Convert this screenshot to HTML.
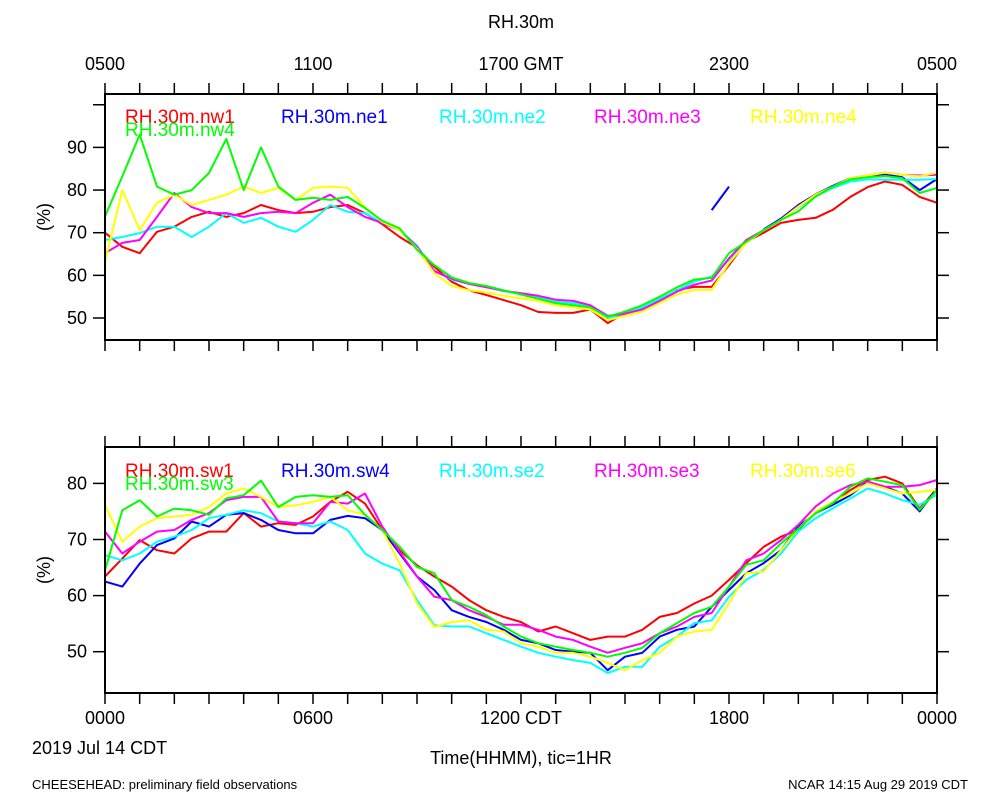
<!DOCTYPE html>
<html><head><meta charset="utf-8"><style>
html,body{margin:0;padding:0;background:#fff;}
svg{display:block;font-family:"Liberation Sans",sans-serif;}
</style></head><body>
<svg id="chart" width="1000" height="800" viewBox="0 0 1000 800" xmlns="http://www.w3.org/2000/svg">
<text x="521" y="28" font-size="18" text-anchor="middle">RH.30m</text>
<g font-size="18" text-anchor="middle">
<text x="105" y="70">0500</text>
<text x="313" y="70">1100</text>
<text x="521" y="70">1700 GMT</text>
<text x="729" y="70">2300</text>
<text x="937" y="70">0500</text>
</g>
<g font-size="18" text-anchor="middle">
<text x="105" y="724">0000</text>
<text x="313" y="724">0600</text>
<text x="521" y="724">1200 CDT</text>
<text x="729" y="724">1800</text>
<text x="937" y="724">0000</text>
</g>
<text x="32" y="754" font-size="18">2019 Jul 14 CDT</text>
<text x="521" y="764" font-size="18" text-anchor="middle">Time(HHMM), tic=1HR</text>
<text x="32" y="789" font-size="13">CHEESEHEAD: preliminary field observations</text>
<text x="968" y="789" font-size="13" text-anchor="end">NCAR 14:15 Aug 29 2019 CDT</text>
</svg>
<script>
const hours = [];
for (let i = 0; i <= 48; i++) hours.push(i * 0.5);

const topYTicks = [50, 60, 70, 80, 90, 100];
const topYLabels = ["50", "60", "70", "80", "90", ""];
const botYTicks = [50, 60, 70, 80];
const botYLabels = ["50", "60", "70", "80"];

const topNames = ["RH.30m.nw1","RH.30m.ne1","RH.30m.ne2","RH.30m.ne3","RH.30m.ne4","RH.30m.nw4"];
const botNames = ["RH.30m.sw1","RH.30m.sw4","RH.30m.se2","RH.30m.se3","RH.30m.se6","RH.30m.sw3"];

const nw1 = [70,66.7,65.2,70.2,71.4,73.7,74.9,73.7,74.6,76.5,75.3,74.6,74.9,76,76.5,74.6,72,69,66.5,62,58.5,56.5,55.4,54.2,53,51.4,51.2,51.2,52,48.8,51.2,52.3,54.2,56.6,57.3,57.3,62.4,67.9,70,72.3,73,73.5,75.4,78.4,80.7,82,81.2,78.4,77];
const ne1 = [null,null,null,null,null,null,null,null,null,null,null,null,null,null,null,null,null,null,null,null,null,null,null,null,null,null,null,null,null,null,null,null,null,null,null,75.3,80.8,null,70.8,73.3,76.5,79,81,82.8,83.3,83.6,83,80,82.6];
const ne2 = [68.3,69,69.9,71.4,71.4,69,71.4,74.6,72.3,73.5,71.4,70.2,73,76.5,74.9,74.6,72.3,70.6,67,61,59,58,57.3,56.3,55.6,54.9,53.8,53.5,52.8,50,51,52.5,54.5,56.5,58.5,59.7,63.6,68,70.6,73,76,78.5,80.5,82,82.5,82.4,82.4,82.4,82.6];
const ne3 = [65.2,67.6,68.3,73.7,79.3,76,74.6,74.6,73.7,74.6,74.9,74.6,77,78.9,76,73.7,72.3,70.6,66.7,61,59.2,58,57.2,56.4,55.8,55.2,54.3,54,53,50.5,51,52,54,56.2,57.8,58.8,64,68.3,70.6,73,76.2,78.9,80.8,82.8,83.4,84.1,83.6,83.4,83.6];
const ne4 = [63.2,80,70.6,77,78.9,76.5,77.7,78.9,80.8,79.3,80.5,77.7,80.5,80.8,80.5,76,72.5,70.6,66.3,60.5,57.5,56.5,56,55.2,54.6,54,53,52.5,52,49.5,50.5,51.5,53.5,55.5,56.6,56.6,62.9,67.6,70.6,73,76.1,78.9,80.8,82.8,83.4,84.1,83.6,83.2,84.1];
const nw4 = [73.8,83.2,93,80.8,78.9,80,84,92,80,90,80.8,77.7,78.2,77.7,78.4,75.8,72.8,71,66,62.4,59.5,58.2,57.5,56.5,55.5,54.5,53.5,53,52.5,50.3,51.5,53,55,57.2,59,59.4,65.2,67.9,70.6,73,75,78.5,80.8,82.5,83,83.3,82.8,79.3,80.5];

const sw1 = [63.4,66.6,69.9,68.1,67.5,70.2,71.4,71.4,74.7,72.3,72.9,72.6,74.1,76.7,78.5,76.4,71.7,68.1,65.4,63.4,61.6,59.2,57.4,56.2,55.3,53.6,54.5,53.3,52.1,52.7,52.7,53.9,56.2,56.9,58.6,60,62.8,65.8,68.7,70.5,71.7,75,76.5,78.8,80.6,81.2,80,75.5,79.1];
const sw4 = [62.5,61.6,65.7,69,70.2,73.2,72.3,74.4,74.7,73.5,71.7,71.1,71.1,73.5,74.2,73.8,71.7,67.5,63.4,61,57.4,56.2,55.3,53.9,52.1,51.5,50.3,50,49.8,46.7,49.1,49.8,52.7,53.9,54.5,58,61,64,65.8,68.1,72.3,74.7,76.2,77.9,80.3,79.4,78.2,75,79.1];
const se2 = [67.2,66.3,67.5,69.6,70.5,71.7,73.8,74.4,75.2,74.7,73.2,72.9,72.3,73.2,71.7,67.5,65.7,64.5,59.2,54.7,54.5,54.5,53.3,52.1,50.9,49.8,49.1,48.5,48,46.2,47.3,47.3,50.9,52.7,55.1,55.6,59.8,62.8,64.6,67.5,71.4,73.8,75.6,77.3,79.1,78.2,77,76.2,78];
const se3 = [71.4,67.5,69.6,71.4,71.7,73.5,74.7,77,77.6,77.6,73.2,72.9,72.9,76.7,76.4,78.2,72.3,67.8,63.4,59.8,59.2,57.4,56.2,54.8,54.8,53.9,52.7,52.1,50.9,49.8,50.7,51.5,53.3,54.5,56.2,56.9,61.6,66.3,67.5,69.9,72.6,75.9,78.2,79.7,80.3,79.4,79.4,79.7,80.6];
const se6 = [76.1,69.6,72.3,73.8,74.1,74.4,75.8,78.2,79.1,77.6,75.8,76.1,76.7,77.6,75.2,74.4,71.7,65.7,58.6,54.4,55.3,55.6,53.9,53.6,51.5,50.9,49.8,49.8,49.1,48,46.7,48.5,49.8,52.7,53.6,53.9,58.6,64,64.3,68.1,71.9,75,76.7,78.2,80,79.1,78.2,78.5,78.8];
const sw3 = [64.5,75.2,77,74.1,75.5,75.2,74.4,77.3,77.9,80.5,75.8,77.6,77.9,77.6,77.9,74.4,71.7,68.7,65.1,64,59.2,58,56.5,54.5,52.7,51.5,50.9,50.3,49.8,49.1,49.8,50.7,53.3,55.1,56.9,58,61.6,65.5,66.3,69.3,71.9,74.7,76.5,79.4,80.9,80.3,79.7,75.3,78.8];

const topSeries = [nw1, ne1, ne2, ne3, ne4, nw4];
const botSeries = [sw1, sw4, se2, se3, se6, sw3];
const colors = ["#ff0000","#0000ff","#00ffff","#ff00ff","#ffff00","#00ff00"];

const NS = "http://www.w3.org/2000/svg";
const svg = document.getElementById("chart");
const X0 = 105, X1 = 937;
function xScale(h){ return X0 + (X1 - X0) * h / 24; }
function mk(tag, attrs, parent){
  const e = document.createElementNS(NS, tag);
  for (const k in attrs) e.setAttribute(k, attrs[k]);
  (parent || svg).appendChild(e);
  return e;
}

const legendX = [125, 281, 439, 594, 750];

function drawPanel(key, top, bottom, yA, vA, yB, vB, yTicks, yLabels, series, names, legRow1){
  function yScale(v){ return yA + (v - vA) * (yB - yA) / (vB - vA); }
  const g = mk("g", {});
  
  
  // series
  series.forEach(function(s, si){
    let d = "", pen = false;
    s.forEach(function(v, i){
      if (v === null) { pen = false; return; }
      d += (pen ? "L" : "M") + xScale(hours[i]).toFixed(1) + "," + yScale(v).toFixed(1);
      pen = true;
    });
    const p = mk("path", {d: d, fill: "none", stroke: colors[si], "stroke-width": 2, "stroke-linejoin": "round"}, g);
    
    
  });
  // frame
  const r = mk("rect", {x: X0, y: top, width: X1 - X0, height: bottom - top, fill: "none", stroke: "#000", "stroke-width": 2}, g);
  
  
  // x ticks
  for (let h = 0; h <= 24; h++){
    const x = xScale(h);
    const t1 = mk("line", {x1: x, x2: x, y1: top - 11, y2: top, stroke: "#000", "stroke-width": 1.5}, g);
    
    
    const t2 = mk("line", {x1: x, x2: x, y1: bottom, y2: bottom + 11, stroke: "#000", "stroke-width": 1.5}, g);
    
    
  }
  // y ticks
  yTicks.forEach(function(v, i){
    const y = yScale(v);
    const a = mk("line", {x1: X0 - 12, x2: X0, y1: y, y2: y, stroke: "#000", "stroke-width": 1.5}, g);
    
    
    const b = mk("line", {x1: X1, x2: X1 + 12, y1: y, y2: y, stroke: "#000", "stroke-width": 1.5}, g);
    
    
    if (yLabels[i]){
      const t = mk("text", {x: 87, y: y + 6, "font-size": 18, "text-anchor": "end"}, g);
      t.textContent = yLabels[i];
      
      
    }
  });
  // y title
  const cy = (top + bottom) / 2;
  const yt = mk("text", {x: 50, y: cy, "font-size": 18, "text-anchor": "middle", transform: "rotate(-90 50 " + cy + ")"}, g);
  yt.textContent = "(%)";
  
  
  // legend
  names.forEach(function(n, i){
    const lx = i < 5 ? legendX[i] : legendX[0];
    const ly = i < 5 ? legRow1 : legRow1 + 13;
    const t = mk("text", {x: lx, y: ly, "font-size": 19, fill: colors[i]}, g);
    t.textContent = n;
    
    
  });
}

drawPanel("top", 94, 340, 318, 50, 147.4, 90, topYTicks, topYLabels, topSeries, topNames, 123);
drawPanel("bottom", 447, 693, 651.7, 50, 483.4, 80, botYTicks, botYLabels, botSeries, botNames, 477);
</script>
</body></html>
